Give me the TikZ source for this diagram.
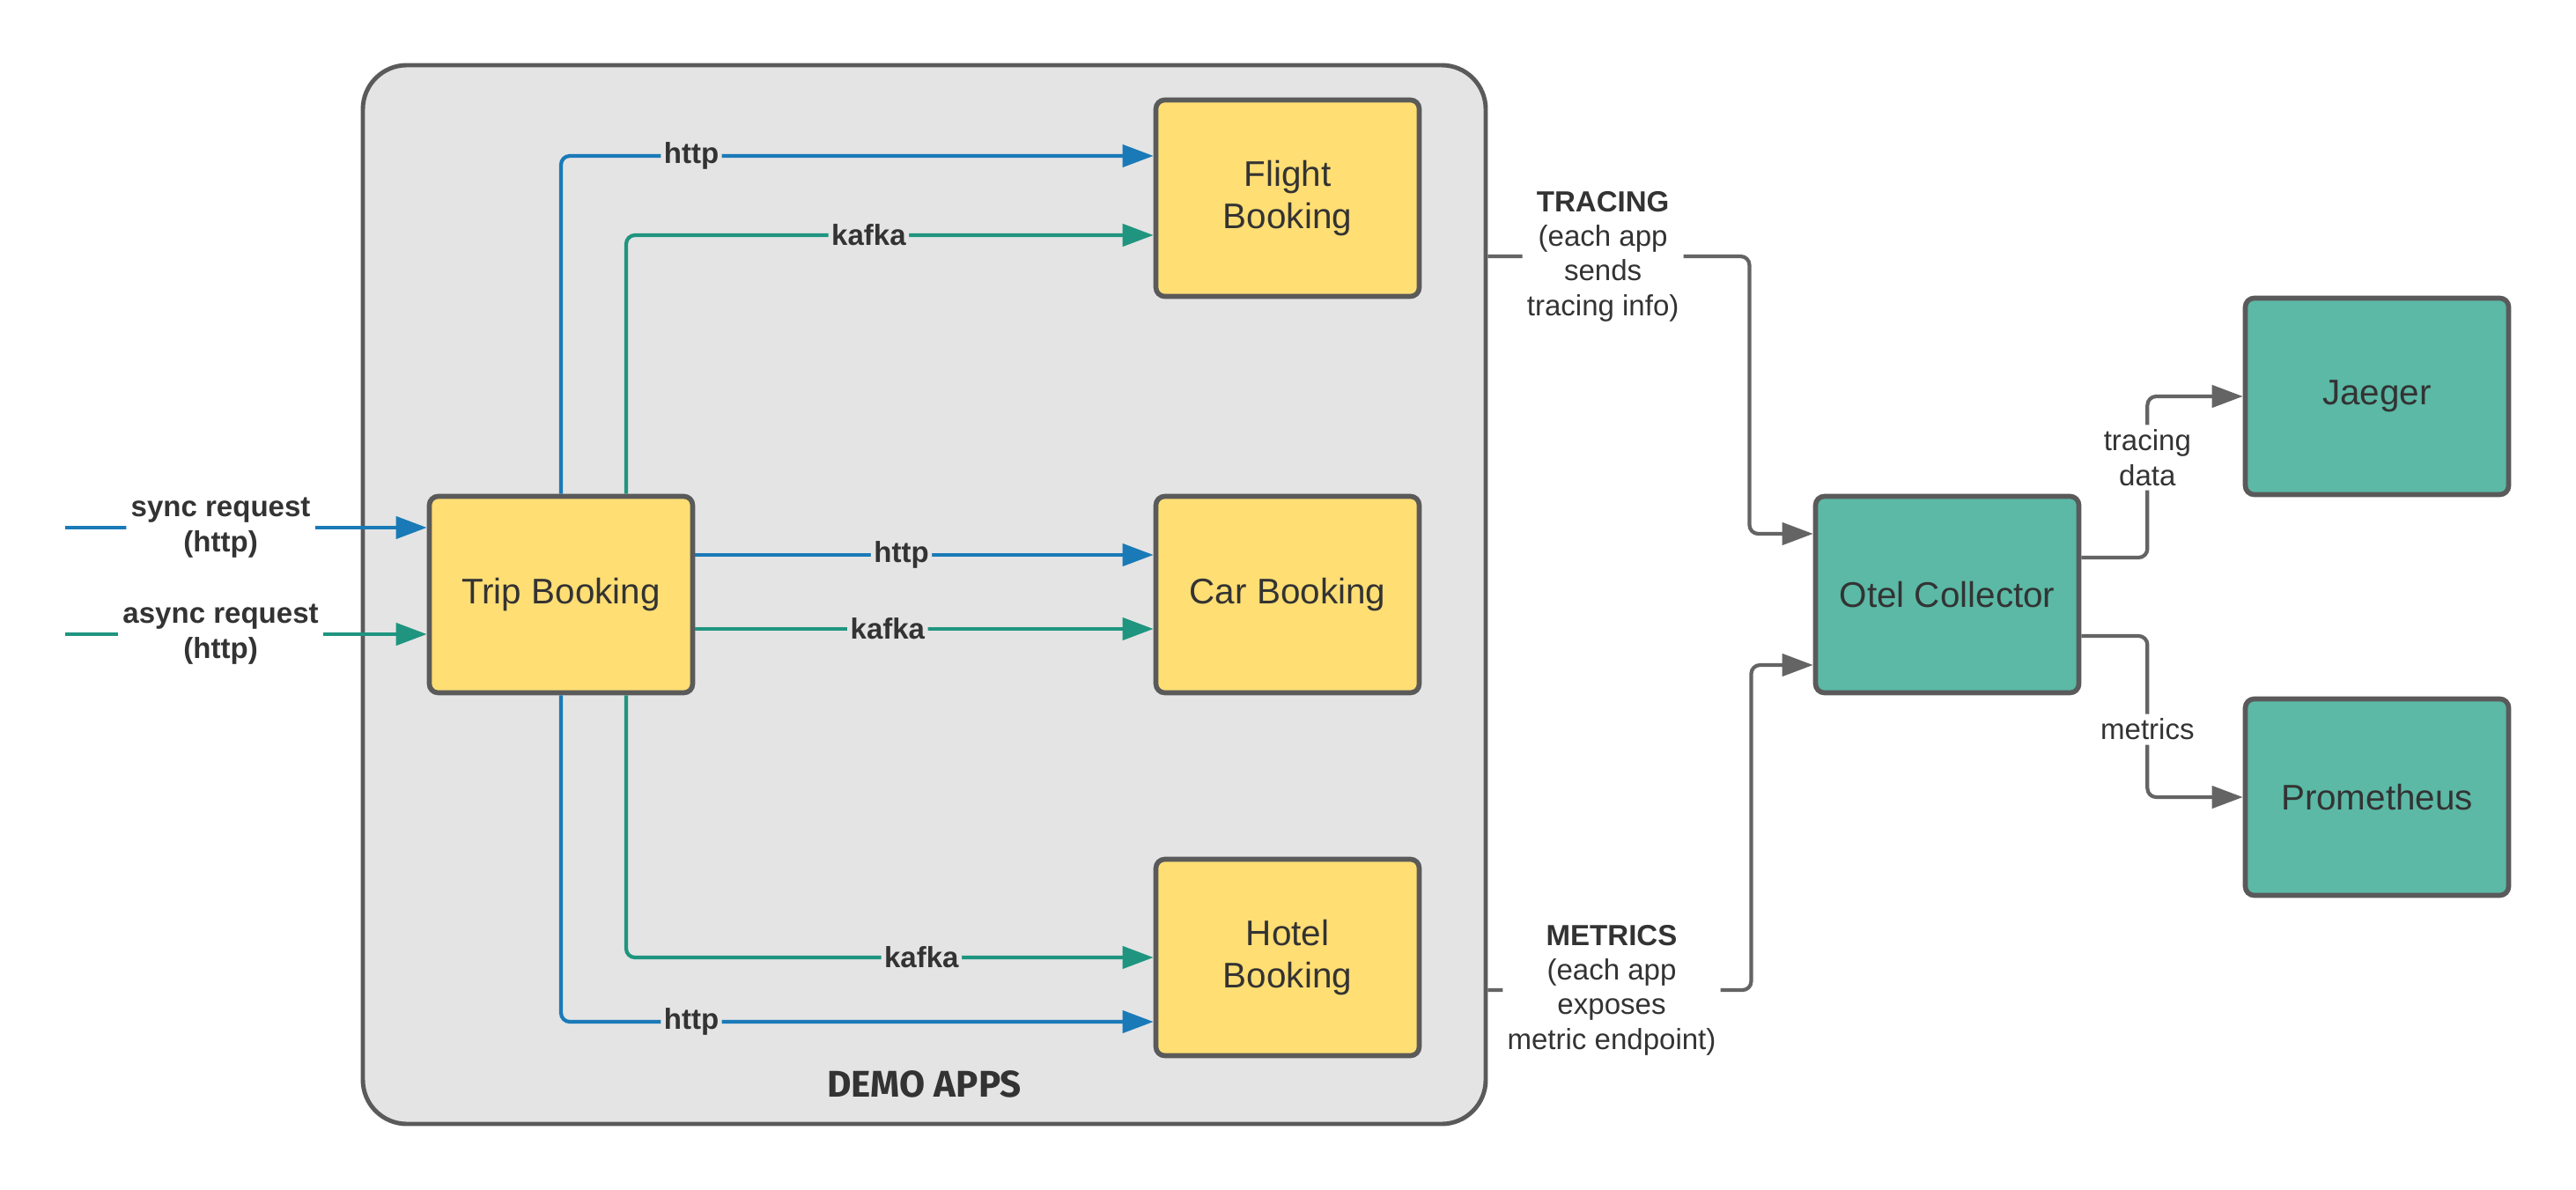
\documentclass[tikz,border=0pt]{standalone}
\usepackage{fontspec}
\setmainfont{Liberation Sans}
\newfontfamily\demofont{Fira Sans}
\usetikzlibrary{arrows.meta}
\definecolor{boxyellow}{HTML}{FFDE74}
\definecolor{toolteal}{HTML}{5BB9A6}
\definecolor{bordergray}{HTML}{5A5A5A}
\definecolor{demogray}{HTML}{E4E4E4}
\definecolor{httpblue}{HTML}{1A7AB8}
\definecolor{kafkagreen}{HTML}{1F9580}
\definecolor{conngray}{HTML}{646464}
\definecolor{textgray}{HTML}{333333}

\begin{document}
\begin{tikzpicture}[font=\fontsize{11.5}{13.7}\selectfont, text=textgray,
  app/.style={draw=bordergray, line width=1.6pt, rounded corners=1mm, fill=boxyellow, minimum width=2.99cm, minimum height=2.23cm, align=center},
  tool/.style={app, fill=toolteal},
  http/.style={draw=httpblue, line width=1.2pt, rounded corners=1mm, -{Triangle[length=3.5mm,width=2.5mm]}},
  kafka/.style={http, draw=kafkagreen},
  conn/.style={http, draw=conngray},
  lbl/.style={font=\fontsize{9.4}{11.2}\selectfont\bfseries, fill=demogray, inner sep=1pt},
  note/.style={font=\fontsize{9.4}{11.2}\selectfont, fill=white, inner sep=1.5pt, align=center},
  req/.style={note, font=\fontsize{9.4}{11.2}\selectfont\bfseries}]
\useasboundingbox (0,0) rectangle (29.25,13.5);
\node[draw=bordergray, line width=1.4pt, rounded corners=5mm, fill=demogray, minimum width=12.75cm, minimum height=12.02cm] (demo) at (10.495,6.75) {};
\node[font=\demofont\bfseries\fontsize{12}{14}\selectfont] (demolabel) at ([yshift=4.8mm]demo.south) {DEMO APPS};

\node[app] (trip) at (6.37,6.75) {Trip Booking};
\node[app] (flight) at (14.62,11.25) {Flight\\Booking};
\node[app] (car) at (14.62,6.75) {Car Booking};
\node[app] (hotel) at (14.62,2.63) {Hotel\\Booking};
\node[tool] (otel) at (22.11,6.75) {Otel Collector};
\node[tool] (jaeger) at (26.99,9.0) {Jaeger};
\node[tool] (prom) at (26.99,4.45) {Prometheus};

\coordinate (syncin) at (0.74,7.51);
\coordinate (asyncin) at (0.74,6.30);
\draw[http] (syncin) -- node[req, pos=0.43] {sync request\\(http)} (syncin -| trip.west);
\draw[kafka] (asyncin) -- node[req, pos=0.43] {async request\\(http)} (asyncin -| trip.west);

\draw[http] (trip.north) |- node[lbl, pos=0.61] {http} ([yshift=4.8mm]flight.west);
\draw[kafka] ([xshift=7.4mm]trip.north) |- node[lbl, pos=0.73] {kafka} ([yshift=-4.2mm]flight.west);
\draw[http] ([yshift=4.5mm]trip.east) -- node[lbl, pos=0.45] {http} ([yshift=4.5mm]car.west);
\draw[kafka] ([yshift=-3.9mm]trip.east) -- node[lbl, pos=0.42] {kafka} ([yshift=-3.9mm]car.west);
\draw[kafka] ([xshift=7.4mm]trip.south) |- node[lbl, pos=0.78] {kafka} (hotel.west);
\draw[http] (trip.south) |- node[lbl, pos=0.61] {http} ([yshift=-7.3mm]hotel.west);

\draw[conn] ([yshift=3.84cm]demo.east) -- node[note, pos=0.44] {\textbf{TRACING}\\(each app\\sends\\tracing info)} ++(2.97,0) |- ([yshift=6.9mm]otel.west);
\draw[conn] ([yshift=-4.49cm]demo.east) -- node[note, pos=0.47] {\textbf{METRICS}\\(each app\\exposes\\metric endpoint)} ++(2.99,0) |- ([yshift=-8mm]otel.west);
\draw[conn] ([yshift=4.2mm]otel.east) -- ++(0.75,0) |- node[note, pos=0.31] {tracing\\data} (jaeger.west);
\draw[conn] ([yshift=-4.7mm]otel.east) -- ++(0.75,0) |- node[note, pos=0.29] {metrics} (prom.west);
\end{tikzpicture}
\end{document}
